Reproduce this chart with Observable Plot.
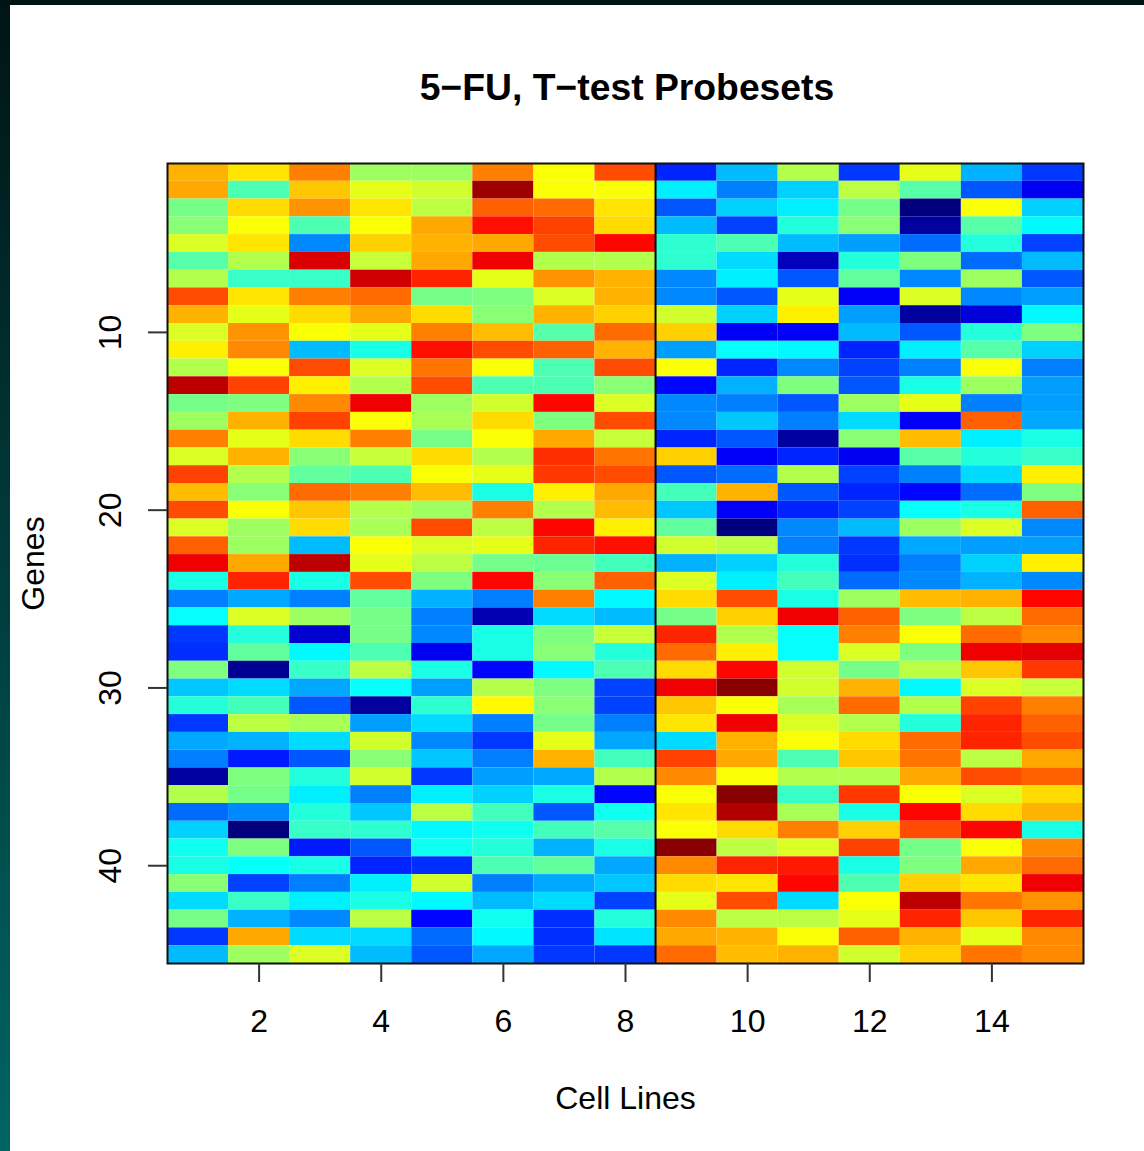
<!DOCTYPE html>
<html><head><meta charset="utf-8">
<script src="https://cdn.jsdelivr.net/npm/d3@7"></script>
<script src="https://cdn.jsdelivr.net/npm/@observablehq/plot@0.6"></script>
<style>
html,body{margin:0;padding:0;width:1144px;height:1151px;overflow:hidden;background:linear-gradient(180deg,#001414 0%,#003c3c 50%,#006464 100%);}
#sheet{position:absolute;left:10px;top:5px;width:1134px;height:1146px;background:#fff;}
#title{height:130px;box-sizing:border-box;padding-top:59px;padding-left:0;width:1234px;text-align:center;font:bold 37.3px "Liberation Sans",Arial,sans-serif;line-height:46px;color:#000;white-space:nowrap;}
svg{display:block;}
</style></head><body>
<div id="sheet"><div id="title">5−FU, T−test Probesets</div><div id="chart"></div></div>
<script>
const titleText = "5−FU, T−test Probesets";
const xTicks = [2,4,6,8,10,12,14];
const yTicks = [10,20,30,40];
const jetStops = [0,12.5,25,37.5,50,62.5,75,87.5,100];
const jetColors = ["#00007F","#0000FF","#007FFF","#00FFFF","#7FFF7F","#FFFF00","#FF7F00","#FF0000","#7F0000"];
// one row per gene, one value per cell line (1-15)
const expression = [
[70,65,75,53,53,75,62,80,16,31,55,18,60,30,18],
[71,45,68,60,58,97,62,62,36,25,33,56,46,21,11],
[49,66,73,65,56,78,77,65,21,33,36,49,0,62,33],
[51,62,45,62,71,86,81,66,31,19,41,51,3,46,37],
[59,65,26,67,70,71,80,87,42,45,31,28,23,41,19],
[46,55,91,57,71,89,55,55,42,34,6,41,50,23,31],
[55,43,43,92,84,60,73,70,26,36,21,47,26,53,21],
[80,65,75,77,49,50,59,70,26,21,60,12,59,26,28],
[70,60,66,71,66,51,70,67,58,33,64,28,3,9,37],
[59,73,62,60,75,69,46,77,67,12,12,31,21,41,50],
[64,74,31,40,86,80,78,70,28,38,37,16,36,46,33],
[55,62,80,59,76,62,45,80,62,16,26,19,25,62,25],
[94,81,64,55,80,45,45,51,13,30,50,21,40,53,28],
[49,50,74,89,53,58,87,59,26,25,21,53,60,25,28],
[53,70,81,62,54,66,50,80,26,32,25,34,12,78,29],
[75,60,66,75,49,62,71,57,16,21,3,51,69,36,40],
[59,70,51,57,66,55,83,76,67,12,16,11,46,41,43],
[81,55,47,45,62,60,82,80,21,23,55,19,25,34,64],
[69,51,77,75,69,40,64,71,44,70,21,16,13,23,50],
[80,62,68,55,53,75,55,69,32,12,16,19,38,40,78],
[59,53,66,54,80,56,87,64,47,0,26,31,53,59,26],
[78,53,31,62,59,60,84,86,58,56,25,18,29,28,28],
[89,71,94,60,56,49,48,44,30,33,41,17,25,33,64],
[40,84,40,80,50,87,51,78,59,36,44,23,26,30,26],
[25,29,25,47,30,25,75,37,66,80,40,53,69,70,87],
[38,59,53,49,25,5,34,31,49,67,89,78,50,56,77],
[18,41,8,49,26,40,50,57,84,55,38,75,62,77,74],
[17,47,37,45,11,40,51,41,77,64,38,59,50,89,90],
[50,2,43,56,40,13,37,45,66,87,58,49,56,68,82],
[32,34,29,38,28,55,50,19,89,99,58,70,37,59,57],
[41,44,21,3,42,63,51,19,68,62,54,77,55,81,75],
[18,56,54,28,34,25,49,25,65,89,59,55,41,84,78],
[29,30,34,58,26,18,60,29,34,70,62,66,77,84,80],
[25,15,21,51,32,25,70,44,81,71,45,68,76,56,71],
[3,50,41,58,18,28,29,55,74,62,55,55,71,80,78],
[55,49,36,25,36,33,40,13,62,99,43,82,62,59,66],
[23,26,41,32,56,44,21,39,65,95,54,40,87,66,70],
[33,0,43,42,37,39,44,46,62,66,75,67,80,87,40],
[39,50,15,21,39,41,30,40,99,56,59,81,49,62,74],
[40,38,40,16,17,45,47,29,74,84,85,40,50,71,77],
[51,19,25,36,58,25,29,32,66,65,87,45,67,65,89],
[34,43,36,40,37,31,34,19,60,80,34,62,94,76,73],
[49,30,26,56,13,39,17,41,74,56,56,60,84,68,84],
[18,71,34,34,23,37,17,35,71,70,62,78,70,60,74],
[31,53,59,31,21,29,18,18,77,69,70,58,67,76,74]
];
const cells = expression.flatMap((row,g)=>row.map((v,c)=>({line:c+1,gene:g+1,value:v})));
const axisColor = "#333";
const plot = Plot.plot({
  width:1134,height:1016,
  marginLeft:157,marginRight:61,marginTop:28,marginBottom:188,
  style:{background:"#fff",fontFamily:'"Liberation Sans",Arial,sans-serif',color:"#000",overflow:"visible"},
  x:{domain:[0.5,15.5]},
  y:{domain:[45.5,0.5]},
  color:{type:"linear",domain:jetStops,range:jetColors,interpolate:"rgb"},
  marks:[
    Plot.rect(cells,{x1:d=>d.line-0.5,x2:d=>d.line+0.5,y1:d=>d.gene-0.5,y2:d=>d.gene+0.5,fill:"value"}),
    Plot.ruleX([8.5],{stroke:"#000",strokeWidth:2,dx:-0.5}),
    Plot.frame({stroke:"#111",strokeWidth:2}),
    Plot.axisX({ticks:xTicks,tickSize:19,tickPadding:27,fontSize:32,stroke:axisColor,strokeWidth:2,strokeOpacity:1,label:"Cell Lines",labelAnchor:"center",labelArrow:"none",labelOffset:145,tickFormat:d=>String(d)}),
    Plot.axisY({ticks:yTicks,tickSize:19,tickPadding:28,fontSize:32,stroke:axisColor,strokeWidth:2,strokeOpacity:1,tickRotate:-90,textAnchor:"middle",label:"Genes",labelAnchor:"center",labelArrow:"none",labelOffset:146,tickFormat:d=>String(d)})
  ]
});
document.getElementById("chart").appendChild(plot);
</script>
</body></html>
